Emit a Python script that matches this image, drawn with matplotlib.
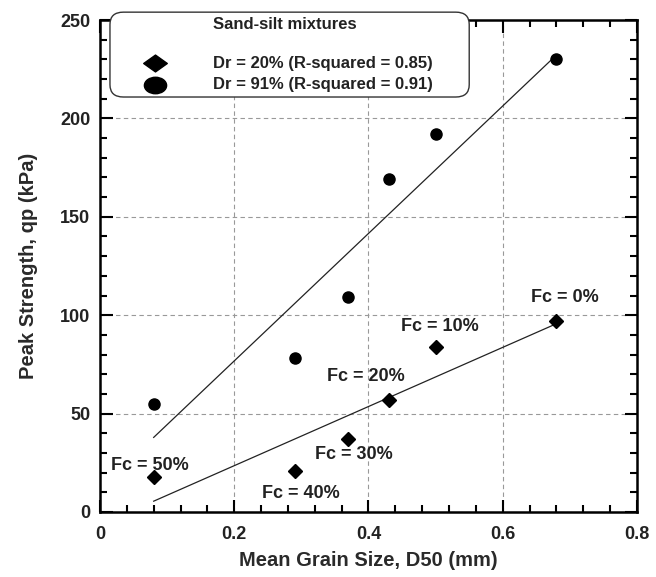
import numpy as np
import matplotlib
matplotlib.use("Agg")
import matplotlib.pyplot as plt
from matplotlib.patches import FancyBboxPatch
from matplotlib.path import Path
from matplotlib.ticker import MultipleLocator

plt.rcParams['font.family'] = ['Liberation Sans', 'DejaVu Sans']

# data
d50 = [0.08, 0.29, 0.37, 0.43, 0.50, 0.68]
qp_dr20 = [18, 21, 37, 57, 84, 97]
qp_dr91 = [55, 78, 109, 169, 192, 230]
fc_labels = ['Fc = 50%', 'Fc = 40%', 'Fc = 30%', 'Fc = 20%', 'Fc = 10%', 'Fc = 0%']
fc_label_x = [0.074, 0.299, 0.378, 0.396, 0.507, 0.693]
fc_label_y = [23.5, 9.5, 29, 69, 94, 109]
legend_title = 'Sand-silt mixtures'
legend_labels = ['Dr = 20% (R-squared = 0.85)', 'Dr = 91% (R-squared = 0.91)']

fig = plt.figure(figsize=(6.56, 5.77), dpi=100)
ax = fig.add_axes([0.1524, 0.1127, 0.8186, 0.8526])

x = np.array(d50)
# linear fits
for yy in (qp_dr20, qp_dr91):
    k, b = np.polyfit(x, np.array(yy), 1)
    xs = np.array([x.min(), x.max()])
    ax.plot(xs, k * xs + b, color='#222222', lw=0.9, zorder=2)

ax.plot(d50, qp_dr20, linestyle='none', marker='D', ms=7.5, color='black', zorder=3)
ax.plot(d50, qp_dr91, linestyle='none', marker='o', ms=8, color='black', zorder=3)

for t, tx, ty in zip(fc_labels, fc_label_x, fc_label_y):
    ax.text(tx, ty, t, ha='center', va='center', fontsize=13, fontweight='bold',
            color='#222222', zorder=4)

ax.set_xlim(0, 0.8)
ax.set_ylim(0, 250)
ax.xaxis.set_major_locator(MultipleLocator(0.2))
ax.xaxis.set_minor_locator(MultipleLocator(0.04))
ax.yaxis.set_major_locator(MultipleLocator(50))
ax.yaxis.set_minor_locator(MultipleLocator(10))
ax.set_xticks([0, 0.2, 0.4, 0.6, 0.8])
ax.set_xticklabels(['0', '0.2', '0.4', '0.6', '0.8'])
ax.tick_params(which='both', direction='in', top=True, right=True, width=1.5)
ax.tick_params(which='major', length=9, labelsize=13, pad=7)
ax.tick_params(axis='x', which='major', pad=10)
ax.tick_params(which='minor', length=5)
for lab in ax.get_xticklabels() + ax.get_yticklabels():
    lab.set_fontweight('bold')
    lab.set_color('#222222')
for s in ax.spines.values():
    s.set_linewidth(1.8)

ax.grid(True, which='major', linestyle=(0, (4, 3)), color='#999999', lw=0.8)
ax.set_axisbelow(True)

ax.set_xlabel('Mean Grain Size, D50 (mm)', fontsize=14.5, fontweight='bold',
              color='#2a2a2a', labelpad=6)
ax.set_ylabel('Peak Strength, qp (kPa)', fontsize=14.5, fontweight='bold',
              color='#2a2a2a', labelpad=16)

# legend box drawn by hand so it can sit over the top spine
box = FancyBboxPatch((0.0186, 0.8435), 0.669, 0.1725,
                     boxstyle='round,pad=0,rounding_size=0.025',
                     transform=ax.transAxes, facecolor='white', edgecolor='#333333',
                     lw=1.0, clip_on=False, zorder=5)
ax.add_patch(box)
ax.text(0.344, 0.990, legend_title, transform=ax.transAxes, ha='center', va='center',
        fontsize=12, fontweight='bold', color='#222222', zorder=6)

ell = Path.unit_circle()
ell = Path(ell.vertices * np.array([1.35, 1.0]), ell.codes)
dia = Path([(-1.4, 0), (0, 1), (1.4, 0), (0, -1), (-1.4, 0)],
           [Path.MOVETO, Path.LINETO, Path.LINETO, Path.LINETO, Path.CLOSEPOLY])
for mk, ms, yy, lab in zip([dia, ell], [17, 16], [0.9126, 0.868], legend_labels):
    ax.plot([0.102], [yy], transform=ax.transAxes, linestyle='none', marker=mk,
            ms=ms, color='black', clip_on=False, zorder=6)
    ax.text(0.210, yy, lab, transform=ax.transAxes, ha='left', va='center',
            fontsize=12, fontweight='bold', color='#222222', zorder=6)

fig.savefig('out.png', dpi=100)
